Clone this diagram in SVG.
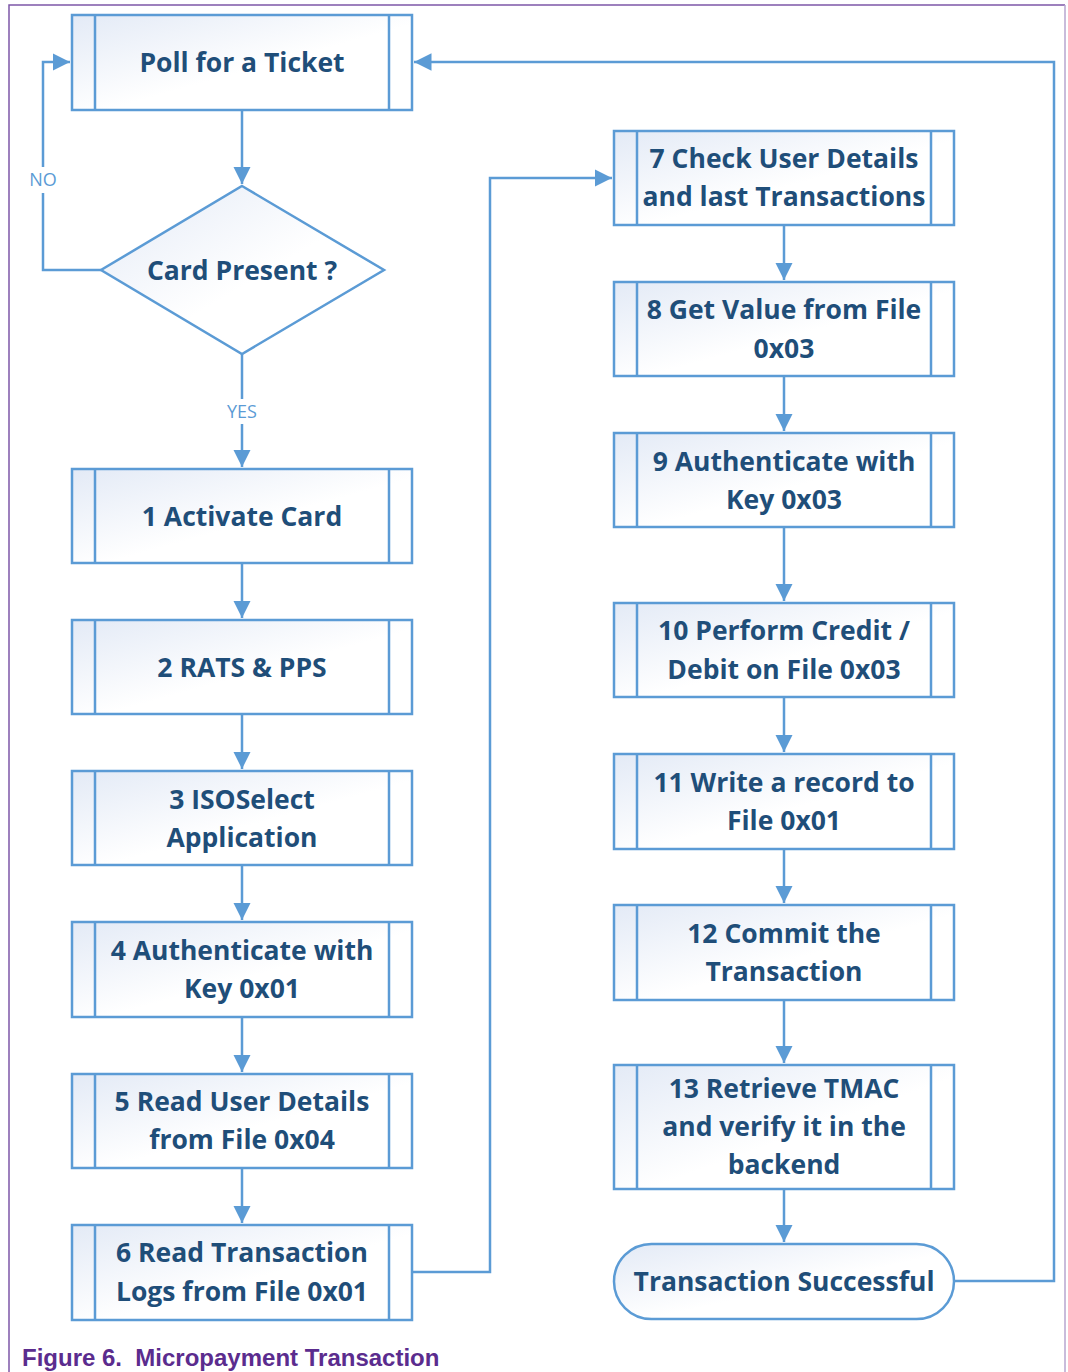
<svg xmlns="http://www.w3.org/2000/svg" width="1068" height="1372" viewBox="0 0 1068 1372">
<defs>
<linearGradient id="g" x1="0" y1="0" x2="1" y2="1">
<stop offset="0" stop-color="#E3EAF6"/>
<stop offset="0.55" stop-color="#FFFFFF"/>
<stop offset="1" stop-color="#FFFFFF"/>
</linearGradient>
<marker id="ah" viewBox="0 0 10 10" refX="10" refY="5" markerWidth="7" markerHeight="7" markerUnits="strokeWidth" orient="auto">
<path d="M0,0 L10,5 L0,10 z" fill="#5B9BD5"/>
</marker>
</defs>
<style>
.box{fill:url(#g);stroke:#5B9BD5;stroke-width:2.5}
.bar{stroke:#5B9BD5;stroke-width:2.5}
.t{font-family:"Open Sans","Liberation Sans",sans-serif;font-weight:700;font-size:26.5px;fill:#1F4E79;text-anchor:middle}
.c{fill:none;stroke:#5B9BD5;stroke-width:2.5}
.lbl{font-family:"Open Sans","Liberation Sans",sans-serif;font-size:18px;fill:#5B9BD5;text-anchor:middle}
.cap{font-family:"Liberation Sans",Arial,sans-serif;font-weight:bold;font-size:24px;fill:#5B2C8E}
</style>
<rect width="1068" height="1372" fill="#FFFFFF"/>
<path d="M9,1372 L9,5 L1065,5" fill="none" stroke="#7E57A8" stroke-width="1.5"/>
<path d="M1065,5 L1065,1372" fill="none" stroke="#B7A6CF" stroke-width="1.5"/>

<g id="connectors">
<path class="c" d="M242,110 L242,184" marker-end="url(#ah)"/>
<path class="c" d="M242,354 L242,399 M242,424 L242,467" marker-end="url(#ah)"/>
<path class="c" d="M101,270 L43,270 L43,193 M43,167 L43,62 L70,62" marker-end="url(#ah)"/>
<path class="c" d="M242,563 L242,618" marker-end="url(#ah)"/>
<path class="c" d="M242,714 L242,769" marker-end="url(#ah)"/>
<path class="c" d="M242,865 L242,920" marker-end="url(#ah)"/>
<path class="c" d="M242,1017 L242,1072" marker-end="url(#ah)"/>
<path class="c" d="M242,1168 L242,1223" marker-end="url(#ah)"/>
<path class="c" d="M412,1272 L490,1272 L490,178 L612,178" marker-end="url(#ah)"/>
<path class="c" d="M784,225 L784,280" marker-end="url(#ah)"/>
<path class="c" d="M784,376 L784,431" marker-end="url(#ah)"/>
<path class="c" d="M784,527 L784,601" marker-end="url(#ah)"/>
<path class="c" d="M784,697 L784,752" marker-end="url(#ah)"/>
<path class="c" d="M784,849 L784,903" marker-end="url(#ah)"/>
<path class="c" d="M784,1000 L784,1063" marker-end="url(#ah)"/>
<path class="c" d="M784,1189 L784,1242" marker-end="url(#ah)"/>
<path class="c" d="M954,1281 L1054,1281 L1054,62 L414,62" marker-end="url(#ah)"/>
<text class="lbl" x="43" y="186">NO</text>
<text class="lbl" x="242" y="418">YES</text>
</g>

<g id="poll">
<rect class="box" x="72" y="15" width="340" height="95"/>
<line class="bar" x1="95" y1="15" x2="95" y2="110"/><line class="bar" x1="389" y1="15" x2="389" y2="110"/>
<text class="t" x="242" y="72">Poll for a Ticket</text>
</g>
<g id="decision">
<polygon class="box" points="242,186 384,270 242,354 101,270"/>
<text class="t" x="242" y="280">Card Present ?</text>
</g>
<g id="n1">
<rect class="box" x="72" y="469" width="340" height="94"/>
<line class="bar" x1="95" y1="469" x2="95" y2="563"/><line class="bar" x1="389" y1="469" x2="389" y2="563"/>
<text class="t" x="242" y="526">1 Activate Card</text>
</g>
<g id="n2">
<rect class="box" x="72" y="620" width="340" height="94"/>
<line class="bar" x1="95" y1="620" x2="95" y2="714"/><line class="bar" x1="389" y1="620" x2="389" y2="714"/>
<text class="t" x="242" y="677">2 RATS &amp; PPS</text>
</g>
<g id="n3">
<rect class="box" x="72" y="771" width="340" height="94"/>
<line class="bar" x1="95" y1="771" x2="95" y2="865"/><line class="bar" x1="389" y1="771" x2="389" y2="865"/>
<text class="t" x="242" y="809">3 ISOSelect</text>
<text class="t" x="242" y="847">Application</text>
</g>
<g id="n4">
<rect class="box" x="72" y="922" width="340" height="95"/>
<line class="bar" x1="95" y1="922" x2="95" y2="1017"/><line class="bar" x1="389" y1="922" x2="389" y2="1017"/>
<text class="t" x="242" y="960">4 Authenticate with</text>
<text class="t" x="242" y="998">Key 0x01</text>
</g>
<g id="n5">
<rect class="box" x="72" y="1074" width="340" height="94"/>
<line class="bar" x1="95" y1="1074" x2="95" y2="1168"/><line class="bar" x1="389" y1="1074" x2="389" y2="1168"/>
<text class="t" x="242" y="1111">5 Read User Details</text>
<text class="t" x="242" y="1149">from File 0x04</text>
</g>
<g id="n6">
<rect class="box" x="72" y="1225" width="340" height="95"/>
<line class="bar" x1="95" y1="1225" x2="95" y2="1320"/><line class="bar" x1="389" y1="1225" x2="389" y2="1320"/>
<text class="t" x="242" y="1262">6 Read Transaction</text>
<text class="t" x="242" y="1301">Logs from File 0x01</text>
</g>
<g id="n7">
<rect class="box" x="614" y="131" width="340" height="94"/>
<line class="bar" x1="637" y1="131" x2="637" y2="225"/><line class="bar" x1="931" y1="131" x2="931" y2="225"/>
<text class="t" x="784" y="168">7 Check User Details</text>
<text class="t" x="784" y="206">and last Transactions</text>
</g>
<g id="n8">
<rect class="box" x="614" y="282" width="340" height="94"/>
<line class="bar" x1="637" y1="282" x2="637" y2="376"/><line class="bar" x1="931" y1="282" x2="931" y2="376"/>
<text class="t" x="784" y="319">8 Get Value from File</text>
<text class="t" x="784" y="358">0x03</text>
</g>
<g id="n9">
<rect class="box" x="614" y="433" width="340" height="94"/>
<line class="bar" x1="637" y1="433" x2="637" y2="527"/><line class="bar" x1="931" y1="433" x2="931" y2="527"/>
<text class="t" x="784" y="471">9 Authenticate with</text>
<text class="t" x="784" y="509">Key 0x03</text>
</g>
<g id="n10">
<rect class="box" x="614" y="603" width="340" height="94"/>
<line class="bar" x1="637" y1="603" x2="637" y2="697"/><line class="bar" x1="931" y1="603" x2="931" y2="697"/>
<text class="t" x="784" y="640">10 Perform Credit /</text>
<text class="t" x="784" y="679">Debit on File 0x03</text>
</g>
<g id="n11">
<rect class="box" x="614" y="754" width="340" height="95"/>
<line class="bar" x1="637" y1="754" x2="637" y2="849"/><line class="bar" x1="931" y1="754" x2="931" y2="849"/>
<text class="t" x="784" y="792">11 Write a record to</text>
<text class="t" x="784" y="830">File 0x01</text>
</g>
<g id="n12">
<rect class="box" x="614" y="905" width="340" height="95"/>
<line class="bar" x1="637" y1="905" x2="637" y2="1000"/><line class="bar" x1="931" y1="905" x2="931" y2="1000"/>
<text class="t" x="784" y="943">12 Commit the</text>
<text class="t" x="784" y="981">Transaction</text>
</g>
<g id="n13">
<rect class="box" x="614" y="1065" width="340" height="124"/>
<line class="bar" x1="637" y1="1065" x2="637" y2="1189"/><line class="bar" x1="931" y1="1065" x2="931" y2="1189"/>
<text class="t" x="784" y="1098">13 Retrieve TMAC</text>
<text class="t" x="784" y="1136">and verify it in the</text>
<text class="t" x="784" y="1174">backend</text>
</g>
<g id="end">
<rect class="box" x="614" y="1244" width="340" height="75" rx="37.5" ry="37.5"/>
<text class="t" x="784" y="1291">Transaction Successful</text>
</g>
<text class="cap" x="22" y="1366">Figure 6.&#160; Micropayment Transaction</text>
</svg>
